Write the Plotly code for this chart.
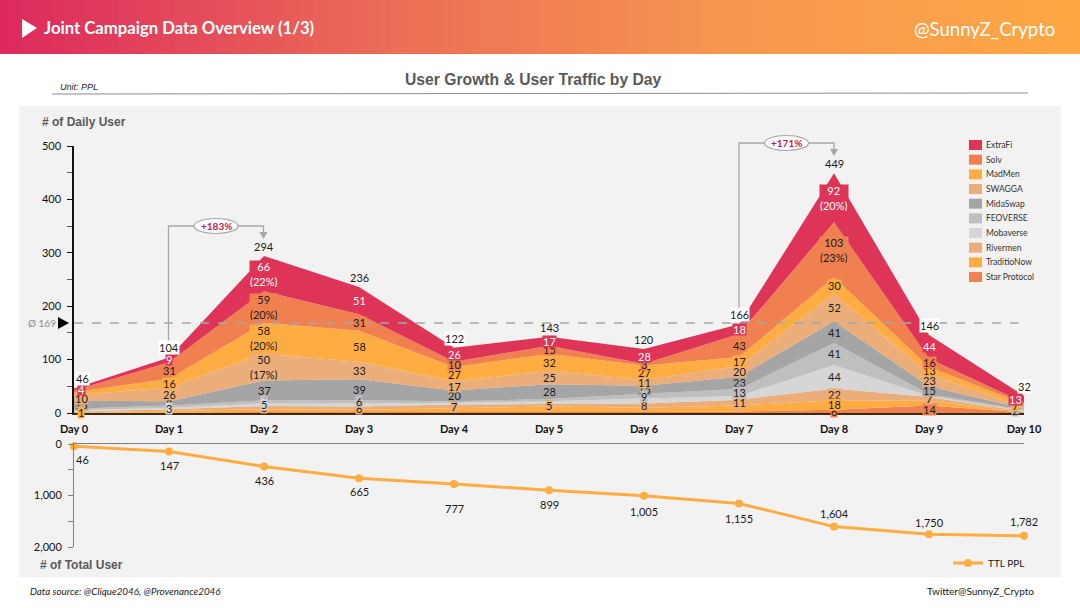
import plotly.graph_objects as go

W, H = 1080, 608
days = [f"Day {i}" for i in range(11)]
day_idx = list(range(11))

series_names = ["ExtraFi", "Solv", "MadMen", "SWAGGA", "MidaSwap", "FEOVERSE", "Mobaverse", "Rivermen", "TraditioNow", "Star Protocol"]
series_colors = ["#DE3458", "#F08050", "#FFAD42", "#EBAE7A", "#A5A5A5", "#BFBFBF", "#D6D6D6", "#EBAE7A", "#FFAD42", "#F08050"]

extrafi = [4, 9, 66, 51, 26, 17, 28, 18, 92, 44, 13]
solv = [3, 31, 59, 31, 10, 15, 3, 43, 103, 16, 2]
madmen = [6, 16, 58, 58, 27, 32, 27, 17, 30, 13, 7]
swagga = [10, 26, 50, 33, 17, 25, 11, 20, 52, 23, 2]
midaswap = [15, 8, 37, 39, 20, 28, 15, 23, 41, 15, 2]
feoverse = [3, 4, 6, 6, 3, 4, 9, 13, 41, 3, 2]
mobaverse = [2, 3, 5, 6, 3, 5, 9, 7, 44, 2, 1]
rivermen = [1, 3, 6, 6, 7, 5, 8, 11, 22, 7, 1]
traditionow = [1, 3, 5, 4, 7, 10, 8, 11, 18, 9, 1]
star = [1, 1, 2, 2, 2, 2, 2, 3, 6, 14, 1]
series_values = [extrafi, solv, madmen, swagga, midaswap, feoverse, mobaverse, rivermen, traditionow, star]

daily_total = [46, 104, 294, 236, 122, 143, 120, 166, 449, 146, 32]
cumulative_total = [46, 147, 436, 665, 777, 899, 1005, 1155, 1604, 1750, 1782]
average_daily = 169

# Which segment values carry a printed label (per series, per day)
N = None
label_extrafi = ["4", "9", "66<br>(22%)", "51", "26", "17", "28", "18", "92<br>(20%)", "44", "13"]
label_solv = [N, "31", "59<br>(20%)", "31", "10", "15", "3", "43", "103<br>(23%)", "16", N]
label_madmen = [N, "16", "58<br>(20%)", "58", "27", "32", "27", "17", "30", "13", "7"]
label_swagga = ["10", "26", "50<br>(17%)", "33", "17", "25", "11", "20", "52", "23", N]
label_midaswap = ["15", "8", "37", "39", "20", "28", "15", "23", "41", "15", N]
label_feoverse = [N, N, "6", "6", N, N, "9", "13", "41", N, "2"]
label_mobaverse = [N, "3", "5", N, N, N, N, N, "44", N, N]
label_rivermen = [N, N, "6", "6", "7", "5", "8", "11", "22", "7", N]
label_traditionow = ["1", N, N, N, N, N, N, N, "18", N, N]
label_star = [N, N, N, N, N, N, N, N, "6", "14", N]
series_labels = [label_extrafi, label_solv, label_madmen, label_swagga, label_midaswap, label_feoverse,
                 label_mobaverse, label_rivermen, label_traditionow, label_star]
boxed_total_days = [0, 1, 4, 7, 9, 10]
# Painter's order of the segment labels (indices into series_names), later ones sit on top
label_order = [9, 7, 4, 8, 5, 6, 3, 2, 1, 0]
# Pixel distance of each cumulative label from its point (positive = below the point)
cumulative_label_gap = [13, 14, 14, 13, 24, 14, 16, 15, -13, -12, -14]

FONT = "Lato"
ARIAL = "Liberation Sans"
X0, X1 = 74, 1024
Y_TOP0, Y_TOP500 = 413, 146
Y_BOT0, Y_BOT2000 = 444, 547
GRAY = "#A6A6A6"

def fx(p):
    return p / W

def fy(p):
    return 1 - p / H

fig = go.Figure()

# Header gradient
fig.add_trace(go.Heatmap(
    z=[[i / 99 for i in range(100)]], xaxis="x3", yaxis="y3", showscale=False, hoverinfo="skip",
    colorscale=[[0, "#DC2A5E"], [0.37, "#EC6F56"], [0.67, "#F69650"], [1, "#FDA845"]], zmin=0, zmax=1,
))

# Stacked areas, from the bottom series upward
for name, color, vals in list(zip(series_names, series_colors, series_values))[::-1]:
    fig.add_trace(go.Scatter(
        x=day_idx, y=vals, name=name, mode="none", stackgroup="one", fill="tonexty",
        fillcolor=color, showlegend=False, xaxis="x", yaxis="y",
    ))

# Cumulative line
fig.add_trace(go.Scatter(
    x=day_idx, y=cumulative_total, name="TTL PPL", mode="lines+markers",
    line=dict(color="#FFAD42", width=3), marker=dict(color="#FFAD42", size=8), cliponaxis=False,
    xaxis="x2", yaxis="y2", showlegend=True,
))

ann = []
def text(px, py, s, size=10, color="#1a1a1a", family=FONT, xanchor="left", bold=False, italic=False):
    if bold:
        s = f"<b>{s}</b>"
    if italic:
        s = f"<i>{s}</i>"
    ann.append(dict(xref="paper", yref="paper", x=fx(px), y=fy(py), text=s, showarrow=False, xanchor=xanchor,
                    yanchor="middle", font=dict(family=family, size=size, color=color)))

for d in day_idx:
    ann.append(dict(xref="x2", yref="y2", x=d, y=cumulative_total[d], text=f"{cumulative_total[d]:,}", showarrow=False,
                    yshift=-cumulative_label_gap[d], xshift=8 if d == 0 else 0,
                    font=dict(family=FONT, size=11, color="#1a1a1a")))

# Segment labels
for s in label_order:
    for d in day_idx:
        lab = series_labels[s][d]
        if lab is None:
            continue
        base = sum(series_values[k][d] for k in range(s + 1, len(series_names)))
        mid = base + series_values[s][d] / 2
        shift = 7 if d == 0 else (-9 if d == 10 else 0)
        ann.append(dict(xref="x", yref="y", x=d, y=mid, text=lab, showarrow=False, xshift=shift,
                        bgcolor=series_colors[s], borderpad=0, height=26 if "<br>" in lab else 11, valign="middle",
                        font=dict(family=FONT, size=11, color="white" if s == 0 else "#1a1a1a")))

# Totals above the stack
for d in day_idx:
    shift = 8 if d == 0 else 0
    ann.append(dict(xref="x", yref="y", x=d, y=daily_total[d], text=str(daily_total[d]), showarrow=False,
                    yanchor="bottom", yshift=2, xshift=shift, borderpad=0,
                    bgcolor="white" if d in boxed_total_days else "rgba(0,0,0,0)",
                    font=dict(family=FONT, size=11, color="#1a1a1a")))

shapes = [
    dict(type="rect", xref="paper", yref="paper", x0=fx(19), x1=fx(1061), y0=fy(577), y1=fy(106),
         fillcolor="#F2F2F2", line_width=0, layer="below"),
    dict(type="line", xref="paper", yref="paper", x0=fx(52), x1=fx(1028), y0=fy(94), y1=fy(93),
         line=dict(color="#8C8C8C", width=1)),
    dict(type="path", xref="paper", yref="paper",
         path=f"M {fx(22)} {fy(19)} L {fx(37)} {fy(28)} L {fx(22)} {fy(38)} Z", fillcolor="white", line_width=0),
    dict(type="line", xref="paper", yref="paper", x0=fx(X0), x1=fx(1028), y0=fy(323), y1=fy(323),
         line=dict(color=GRAY, width=1.3, dash="dash")),
    dict(type="path", xref="paper", yref="paper",
         path=f"M {fx(58)} {fy(317)} L {fx(69)} {fy(323)} L {fx(58)} {fy(329)} Z", fillcolor="black", line_width=0),
]

def growth(px_start, py_start, px_end, py_top, py_arrow, label):
    mx = (px_start + px_end) / 2
    shapes.append(dict(type="path", xref="paper", yref="paper", line=dict(color=GRAY, width=1.3),
                       path=f"M {fx(px_start)} {fy(py_start)} L {fx(px_start)} {fy(py_top)} L {fx(px_end)} {fy(py_top)} L {fx(px_end)} {fy(py_arrow - 6)}"))
    shapes.append(dict(type="circle", xref="paper", yref="paper", x0=fx(mx - 22), x1=fx(mx + 22),
                       y0=fy(py_top + 7.5), y1=fy(py_top - 7.5), fillcolor="white", line=dict(color=GRAY, width=1.2)))
    text(mx, py_top, label, size=10, color="#C9184F", xanchor="center", bold=True)
    shapes.append(dict(type="path", xref="paper", yref="paper", fillcolor=GRAY, line_width=0,
                       path=f"M {fx(px_end - 4)} {fy(py_arrow - 7)} L {fx(px_end + 4)} {fy(py_arrow - 7)} L {fx(px_end)} {fy(py_arrow)} Z"))

growth(168.5, 341, 263.5, 226, 239, "+183%")
growth(739, 308, 834, 143, 156, "+171%")

# Custom legend
for i, (name, color) in enumerate(zip(series_names, series_colors)):
    yc = 145 + i * 14.67
    shapes.append(dict(type="rect", xref="paper", yref="paper", x0=fx(969), x1=fx(982), y0=fy(yc + 5), y1=fy(yc - 5),
                       fillcolor=color, line_width=0))
    text(984, yc, name, size=8.5, color="#333333")

# Page texts
text(42, 28, "Joint Campaign Data Overview (1/3)", size=16.7, color="white", bold=True)
text(1057, 29, "@SunnyZ_Crypto", size=18.6, color="white", xanchor="right")
text(533, 80, "User Growth &amp; User Traffic by Day", size=15.7, color="#595959", family=ARIAL, xanchor="center", bold=True)
text(58, 87, "Unit: PPL", size=9, color="#262626", family=ARIAL, italic=True)
text(40, 122, "# of Daily User", size=12, color="#595959", family=ARIAL, bold=True)
text(38, 565, "# of Total User", size=12, color="#595959", family=ARIAL, bold=True)
text(26, 323, "Ø 169", size=10, color="#8C8C8C")
text(28, 591, "Data source: @Clique2046, @Provenance2046", size=9.8, color="#1a1a1a", italic=True)
text(1036, 591, "Twitter@SunnyZ_Crypto", size=10, color="#1a1a1a", xanchor="right")

fig.update_layout(
    width=W, height=H, margin=dict(l=0, r=0, t=0, b=0, autoexpand=False), autosize=False,
    paper_bgcolor="white", plot_bgcolor="rgba(0,0,0,0)",
    shapes=shapes, annotations=ann, hovermode=False,
    font=dict(family=FONT, size=11, color="#1a1a1a"),
    legend=dict(x=fx(1030), y=fy(563), xanchor="right", yanchor="middle", bgcolor="rgba(0,0,0,0)",
                itemwidth=30, font=dict(family=FONT, size=10, color="#1a1a1a")),
    xaxis=dict(domain=[fx(X0), fx(X1)], range=[0, 10], anchor="y", tickvals=day_idx,
               ticktext=[f"<b>{d}</b>" for d in days], ticks="", ticklabelstandoff=5, showgrid=False, zeroline=False,
               showline=True, linecolor="#3A2A10", linewidth=1.5, tickfont=dict(family=FONT, size=11, color="#111111")),
    yaxis=dict(domain=[fy(Y_TOP0), fy(Y_TOP500)], range=[0, 500], anchor="x", tickvals=[0, 100, 200, 300, 400, 500],
               ticks="outside", ticklen=5, tickcolor="#111111", showgrid=False, zeroline=False, showline=True,
               linecolor="#111111", linewidth=1.5, minor=dict(dtick=50, ticks="outside", ticklen=5, tickcolor="#555555"),
               tickfont=dict(family=FONT, size=11, color="#111111"), ticklabelstandoff=4),
    xaxis2=dict(domain=[fx(X0), fx(X1)], range=[0, 10], anchor="y2", side="top", showticklabels=False, ticks="",
                showgrid=False, zeroline=False, showline=True, linecolor="#7F7F7F", linewidth=1),
    yaxis2=dict(domain=[fy(Y_BOT2000), fy(Y_BOT0)], range=[2000, 0], anchor="x2", tickvals=[0, 1000, 2000],
                tickformat=",d", ticks="outside", ticklen=5, tickcolor="#7F7F7F", showgrid=False, zeroline=False,
                showline=True, linecolor="#7F7F7F", linewidth=1,
                minor=dict(dtick=500, ticks="outside", ticklen=5, tickcolor="#7F7F7F"),
                tickfont=dict(family=FONT, size=11, color="#111111"), ticklabelstandoff=4),
    xaxis3=dict(domain=[0, 1], visible=False, anchor="y3"),
    yaxis3=dict(domain=[fy(54), 1], visible=False, anchor="x3"),
)

fig.write_html("out.html", post_script="document.body.style.margin='0';", config={"displayModeBar": False})
